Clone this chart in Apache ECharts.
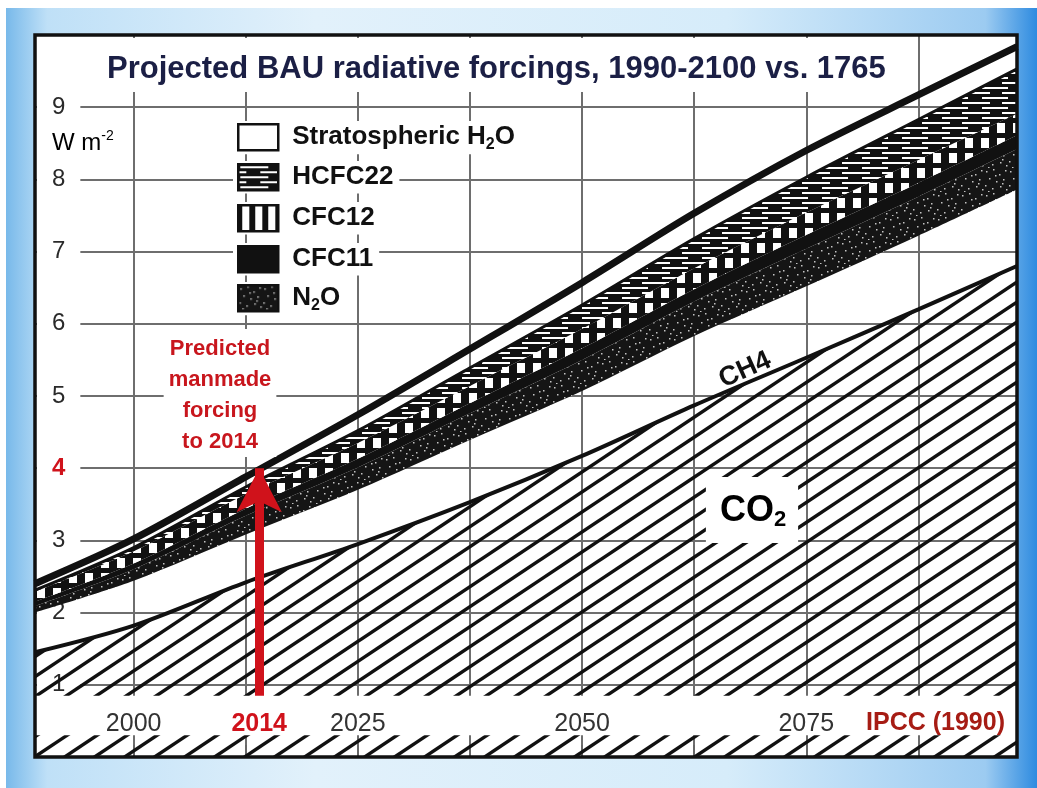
<!DOCTYPE html>
<html>
<head>
<meta charset="utf-8">
<title>Projected BAU radiative forcings</title>
<script src="https://cdn.jsdelivr.net/npm/echarts@6/dist/echarts.min.js"></script>
<style>
  html, body { margin: 0; padding: 0; background: #fff; }
  #frame {
    position: absolute; left: 6px; top: 8px; width: 1031px; height: 780px;
    background: linear-gradient(90deg, #78b9ea 0%, #bfe0f7 4%, #e2f1fb 30%, #d6ecfa 70%, #9ccbf1 95%, #2e8be0 100%);
  }
  #chart { position: absolute; left: 0; top: 0; width: 1037px; height: 788px; }
</style>
</head>
<body>
<div id="frame"></div>
<div id="chart"></div>
<script>
var years    = [1989, 2000, 2012.5, 2025, 2037.5, 2050, 2062.5, 2075, 2087.5, 2098.5];
var co2      = [1.45, 1.82, 2.42, 2.95, 3.53, 4.17, 4.87, 5.53, 6.20, 6.80];
var ch4      = [0.55, 0.62, 0.66, 0.75, 0.86, 0.90, 0.96, 0.99, 1.02, 1.06];
var n2o      = [0.09, 0.16, 0.26, 0.31, 0.37, 0.43, 0.48, 0.52, 0.54, 0.56];
var cfc11    = [0.06, 0.08, 0.10, 0.12, 0.14, 0.16, 0.17, 0.19, 0.19, 0.19];
var cfc12    = [0.14, 0.17, 0.20, 0.22, 0.24, 0.27, 0.29, 0.31, 0.32, 0.30];
var hcfc22   = [0.02, 0.05, 0.10, 0.17, 0.25, 0.33, 0.41, 0.49, 0.56, 0.62];
var stratH2O = [0.09, 0.12, 0.14, 0.22, 0.26, 0.31, 0.35, 0.37, 0.34, 0.31];

var gridYears  = [2000, 2012.5, 2025, 2037.5, 2050, 2062.5, 2075, 2087.5];
var yearLabels = [2000, 2014, 2025, 2050, 2075];
var xMin = 1989, xMax = 2098.5;

// red arrow: predicted forcing up to 2014
var arrowYear = 2014, arrowFrom = 0.85, arrowTo = 4.0;

var FONT = '"Liberation Sans", Arial, sans-serif';
var RED = '#d0121b';

// fill textures
function tile(w, h, draw) {
  var c = document.createElement('canvas');
  c.width = w; c.height = h;
  draw(c.getContext('2d'), w, h);
  return { image: c, repeat: 'repeat' };
}
var hatch = tile(60, 40, function (g, w, h) {
  g.strokeStyle = '#111'; g.lineWidth = 3.5;
  for (var c = -90; c <= 120; c += 30) {
    g.beginPath(); g.moveTo(c - 15, 50); g.lineTo(c + 75, -10); g.stroke();
  }
});
var blocks = tile(16, 15, function (g) {
  g.fillStyle = '#111'; g.fillRect(0, 0, 16, 15);
  g.fillStyle = '#fff'; g.fillRect(5, 3, 8, 10);
});
var blocksLegend = tile(13, 40, function (g) {
  g.fillStyle = '#111'; g.fillRect(0, 0, 13, 40);
  g.fillStyle = '#fff'; g.fillRect(4, 0, 7, 40);
});
var dashes = tile(40, 10, function (g) {
  g.fillStyle = '#111'; g.fillRect(0, 0, 40, 10);
  g.fillStyle = '#fff';
  g.fillRect(2, 2, 28, 2); g.fillRect(22, 7, 18, 2); g.fillRect(0, 7, 8, 2);
});
var speckle = tile(24, 24, function (g) {
  g.fillStyle = '#151515'; g.fillRect(0, 0, 24, 24);
  g.fillStyle = 'rgba(255,255,255,0.75)';
  [[2,3],[9,1],[15,6],[21,2],[5,10],[12,13],[19,11],[1,17],[8,20],[16,18],[22,21],[11,7],[4,23],[18,15]]
    .forEach(function (p) { g.fillRect(p[0], p[1], 1.5, 1.5); });
});

// value first, year second: the stack then runs on the value dimension
function layer(name, values, fill, line) {
  return {
    name: name,
    type: 'line',
    stack: 'forcing',
    smooth: 0.3,
    symbol: 'none',
    silent: true,
    encode: { x: 1, y: 0 },
    data: years.map(function (y, i) { return [values[i], y]; }),
    itemStyle: { color: '#111' },
    lineStyle: line || { width: 0 },
    areaStyle: { color: fill, opacity: 1 }
  };
}

var series = [
  layer('CO2', co2, hatch, { color: '#111', width: 4 }),
  layer('CH4', ch4, 'rgba(255,255,255,0)'),
  layer('N2O', n2o, speckle),
  layer('CFC11', cfc11, '#111'),
  layer('CFC12', cfc12, blocks),
  layer('HCFC22', hcfc22, dashes, { color: '#111', width: 3 }),
  layer('Stratospheric H2O', stratH2O, 'rgba(255,255,255,0)', { color: '#111', width: 7 }),
  {
    // white strip that carries the year labels
    name: 'labelRow',
    type: 'line',
    symbol: 'none',
    silent: true,
    z: 3,
    data: [[xMin, 0.85], [xMax, 0.85]],
    lineStyle: { width: 0 },
    areaStyle: { color: '#fff', opacity: 1, origin: 0.3 },
    markLine: {
      silent: true,
      symbol: ['none', 'arrow'],
      symbolSize: [34, 44],
      label: { show: false },
      lineStyle: { color: RED, width: 9, type: 'solid' },
      data: [[{ coord: [arrowYear, arrowFrom] }, { coord: [arrowYear, arrowTo] }]]
    }
  }
];

var legendItems = [
  { name: 'Stratospheric H2O', fill: '#fff', top: 121 },
  { name: 'HCFC22', fill: dashes, top: 161 },
  { name: 'CFC12', fill: blocksLegend, top: 202 },
  { name: 'CFC11', fill: '#111', top: 243 },
  { name: 'N2O', fill: speckle, top: 282 }
];
var legendText = {
  'Stratospheric H2O': '{t|Stratospheric H}{s|2}{t|O}',
  'HCFC22': '{t|HCFC22}',
  'CFC12': '{t|CFC12}',
  'CFC11': '{t|CFC11}',
  'N2O': '{t|N}{s|2}{t|O}'
};

var option = {
  animation: false,
  backgroundColor: 'transparent',
  title: {
    text: 'Projected BAU radiative forcings, 1990-2100 vs. 1765',
    left: 99, top: 38,
    padding: [16, 8, 7, 8],
    backgroundColor: '#fff',
    textStyle: { fontFamily: FONT, fontSize: 31, fontWeight: 'bold', color: '#1b1f45' }
  },
  // one small legend per entry, so gridlines show between them as in the original
  legend: legendItems.map(function (it) {
    return {
      left: 233, top: it.top,
      orient: 'vertical',
      selectedMode: false,
      backgroundColor: '#fff',
      padding: [2, 6, 2, 4],
      itemWidth: 40, itemHeight: 26,
      data: [{ name: it.name, icon: 'rect', itemStyle: { color: it.fill, borderColor: '#111', borderWidth: 2.5 } }],
      formatter: function (n) { return legendText[n]; },
      textStyle: {
        padding: [0, 0, 0, 9],
        rich: {
          t: { fontFamily: FONT, fontSize: 26, fontWeight: 'bold', color: '#111', lineHeight: 30 },
          s: { fontFamily: FONT, fontSize: 16, fontWeight: 'bold', color: '#111', lineHeight: 14, verticalAlign: 'bottom' }
        }
      }
    };
  }),
  grid: {
    left: 35, top: 35, right: 20, bottom: 31,
    show: true, backgroundColor: '#fff', borderWidth: 0
  },
  xAxis: [{
    type: 'value', min: xMin, max: xMax,
    axisLine: { show: false },
    axisTick: { show: true, inside: true, length: 12, customValues: gridYears, lineStyle: { color: '#666', width: 2 } },
    axisLabel: { show: false },
    splitLine: { show: true, lineStyle: { color: '#6e6e6e', width: 2 } }
  }, {
    type: 'value', min: xMin, max: xMax, position: 'bottom', z: 10,
    axisLine: { show: false }, axisTick: { show: false }, splitLine: { show: false },
    axisLabel: {
      inside: true, margin: 20, customValues: yearLabels,
      fontFamily: FONT, fontSize: 25, color: '#333',
      formatter: function (v) { return v === 2014 ? '{r|2014}' : String(v); },
      rich: { r: { fontFamily: FONT, fontSize: 25, fontWeight: 'bold', color: RED } }
    }
  }],
  yAxis: {
    type: 'value', min: 0, max: 10, interval: 1,
    axisLine: { show: false }, axisTick: { show: false },
    splitLine: { lineStyle: { color: '#6e6e6e', width: 2 } },
    axisLabel: {
      inside: true, margin: 2, showMinLabel: false, showMaxLabel: false,
      backgroundColor: '#fff', padding: [3, 15, 3, 15],
      fontFamily: FONT, fontSize: 24, color: '#2a2a2a',
      formatter: function (v) { return v === 4 ? '{r|4}' : String(v); },
      rich: { r: { fontFamily: FONT, fontSize: 24, fontWeight: 'bold', color: RED } }
    }
  },
  series: series,
  graphic: [
    {
      type: 'text', z: 10, x: 52, y: 143,
      style: {
        text: '{a|W m}{s|-2}', align: 'left', verticalAlign: 'middle',
        rich: {
          a: { fontFamily: FONT, fontSize: 24, color: '#2a2a2a', lineHeight: 28 },
          s: { fontFamily: FONT, fontSize: 14, color: '#2a2a2a', lineHeight: 14, verticalAlign: 'top' }
        }
      }
    },
    {
      type: 'text', z: 10, x: 220, y: 329,
      style: {
        text: 'Predicted\nmanmade\nforcing\nto 2014',
        align: 'center', verticalAlign: 'top',
        font: 'bold 22px ' + FONT, lineHeight: 31, fill: '#c8161d',
        backgroundColor: '#fff', padding: [4, 5, 0, 5]
      }
    },
    {
      type: 'text', z: 10, x: 745, y: 370, rotation: 0.42,
      style: { text: 'CH4', align: 'center', verticalAlign: 'middle', font: 'bold 27px ' + FONT, fill: '#111' }
    },
    {
      type: 'text', z: 10, x: 752, y: 510,
      style: {
        text: '{a|CO}{s|2}', align: 'center', verticalAlign: 'middle',
        backgroundColor: '#fff', padding: [14, 12, 12, 14],
        rich: {
          a: { fontFamily: FONT, fontSize: 36, fontWeight: 'bold', color: '#111', lineHeight: 40 },
          s: { fontFamily: FONT, fontSize: 22, fontWeight: 'bold', color: '#111', lineHeight: 18, verticalAlign: 'bottom' }
        }
      }
    },
    {
      type: 'text', z: 10, x: 1005, y: 723,
      style: { text: 'IPCC (1990)', align: 'right', verticalAlign: 'middle', font: 'bold 25px ' + FONT, fill: '#a61c14' }
    },
    {
      type: 'rect', z: 20,
      shape: { x: 35, y: 35, width: 982, height: 722 },
      style: { fill: 'none', stroke: '#111', lineWidth: 3.5 }
    }
  ]
};

var chart = echarts.init(document.getElementById('chart'));
chart.setOption(option);
</script>
</body>
</html>
